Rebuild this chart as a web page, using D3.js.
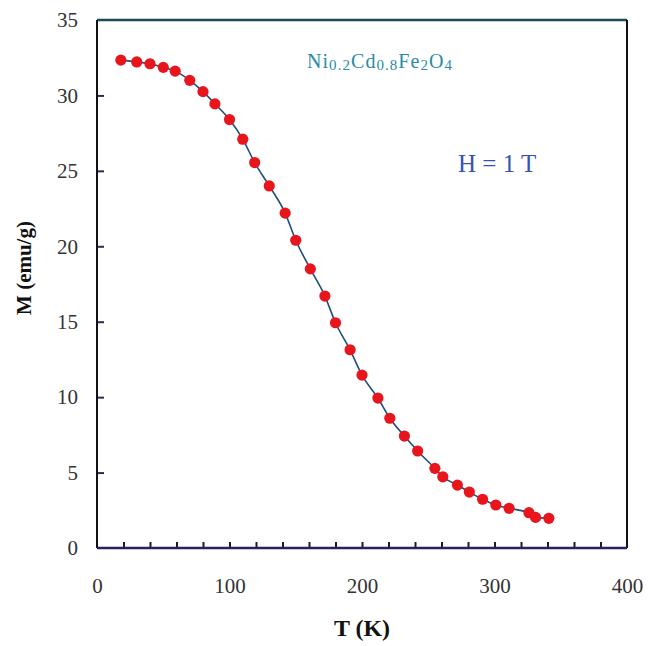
<!DOCTYPE html>
<html>
<head>
<meta charset="utf-8">
<script src="https://cdn.jsdelivr.net/npm/d3@7"></script>
<style>
  body { margin: 0; background: #fff; }
  text { font-family: "Liberation Serif", "DejaVu Serif", serif; }
</style>
</head>
<body>
<svg id="chart"></svg>
<script>
// temperature (K) and magnetisation (emu/g)
var temps = [18, 30, 40, 50, 59, 70, 80, 89, 100, 110, 119, 130, 142, 150, 161, 172, 180, 191,
             200, 212, 221, 232, 242, 255, 261, 272, 281, 291, 301, 311, 326, 331, 341];
var moments = [32.34, 32.22, 32.1, 31.86, 31.61, 31.0, 30.25, 29.44, 28.4, 27.1, 25.55, 24.0, 22.2,
               20.4, 18.5, 16.7, 14.93, 13.14, 11.46, 9.94, 8.6, 7.42, 6.43, 5.28, 4.72, 4.17, 3.71,
               3.23, 2.85, 2.63, 2.34, 2.03, 1.97];
var xTickLabels = [0, 100, 200, 300, 400];
var yTickLabels = [0, 5, 10, 15, 20, 25, 30, 35];

var margin = {top: 20, right: 22, bottom: 98, left: 97};
var width = 649 - margin.left - margin.right;
var height = 646 - margin.top - margin.bottom;

var svg = d3.select("#chart")
  .attr("width", 649)
  .attr("height", 646);

var chart = svg.append("g")
  .attr("transform", "translate(" + margin.left + "," + margin.top + ")");

var x = d3.scaleLinear().domain([0, 400]).range([0, width]);
var y = d3.scaleLinear().domain([0, 35]).range([height, 0]);

var data = temps.map(function(t, i) { return {t: t, m: moments[i]}; });

// minor ticks pointing inwards
chart.append("g")
  .attr("transform", "translate(0," + height + ")")
  .call(d3.axisTop(x).tickValues(d3.range(20, 400, 20)).tickSize(6).tickFormat(""))
  .call(function(g) { g.select(".domain").remove(); })
  .selectAll("line").attr("stroke", "#1a1a2a").attr("stroke-width", 2);

chart.append("g")
  .call(d3.axisRight(y).tickValues(d3.range(5, 35, 5)).tickSize(7).tickFormat(""))
  .call(function(g) { g.select(".domain").remove(); })
  .selectAll("line").attr("stroke", "#2a2a5a").attr("stroke-width", 2);

// tick labels
chart.append("g")
  .attr("transform", "translate(0," + height + ")")
  .call(d3.axisBottom(x).tickValues(xTickLabels).tickSize(0).tickPadding(30))
  .call(function(g) {
    g.select(".domain").remove();
    g.selectAll("text").attr("font-size", 21).attr("fill", "#333")
      .attr("font-family", "Liberation Serif");
  });

chart.append("g")
  .call(d3.axisLeft(y).tickValues(yTickLabels).tickSize(0).tickPadding(19))
  .call(function(g) {
    g.select(".domain").remove();
    g.selectAll("text").attr("font-size", 21).attr("fill", "#333")
      .attr("font-family", "Liberation Serif");
  });

// frame
chart.append("line").attr("x1", 0).attr("x2", width).attr("y1", 0).attr("y2", 0)
  .attr("stroke", "#1f4a55").attr("stroke-width", 2.5);
chart.append("line").attr("x1", width).attr("x2", width).attr("y1", 0).attr("y2", height)
  .attr("stroke", "#111").attr("stroke-width", 2);
chart.append("line").attr("x1", 0).attr("x2", 0).attr("y1", 0).attr("y2", height)
  .attr("stroke", "#111").attr("stroke-width", 2);
chart.append("line").attr("x1", 0).attr("x2", width).attr("y1", height).attr("y2", height)
  .attr("stroke", "#2a2060").attr("stroke-width", 2.5);

// curve and points
var line = d3.line()
  .x(function(d) { return x(d.t); })
  .y(function(d) { return y(d.m); })
  .curve(d3.curveMonotoneX);

chart.append("path")
  .datum(data)
  .attr("fill", "none")
  .attr("stroke", "#1d4f7a")
  .attr("stroke-width", 1.6)
  .attr("d", line);

chart.selectAll(".dot")
  .data(data)
  .enter().append("circle")
  .attr("class", "dot")
  .attr("cx", function(d) { return x(d.t); })
  .attr("cy", function(d) { return y(d.m); })
  .attr("r", 5.6)
  .attr("fill", "#e8161c");

// annotations
var formula = chart.append("text")
  .attr("x", 210)
  .attr("y", 50)
  .attr("font-size", 20)
  .attr("fill", "#2a8ba6")
  .attr("textLength", 145)
  .attr("lengthAdjust", "spacing");
[["Ni", false], ["0.2", true], ["Cd", false], ["0.8", true], ["Fe", false], ["2", true], ["O", false], ["4", true]]
  .forEach(function(p) {
    formula.append("tspan")
      .attr("font-size", p[1] ? 15 : 20)
      .attr("dy", p[1] ? 2 : -2)
      .text(p[0]);
  });

chart.append("text")
  .attr("x", 361)
  .attr("y", 152)
  .attr("font-size", 25)
  .attr("fill", "#3652b4")
  .text("H = 1 T");

// axis titles
chart.append("text")
  .attr("x", x(200))
  .attr("y", height + 88)
  .attr("text-anchor", "middle")
  .attr("font-size", 24)
  .attr("font-weight", "bold")
  .attr("fill", "#111")
  .text("T (K)");

chart.append("text")
  .attr("transform", "translate(-66,248) rotate(-90)")
  .attr("text-anchor", "middle")
  .attr("font-size", 21)
  .attr("font-weight", "bold")
  .attr("fill", "#111")
  .text("M (emu/g)");
</script>
</body>
</html>
